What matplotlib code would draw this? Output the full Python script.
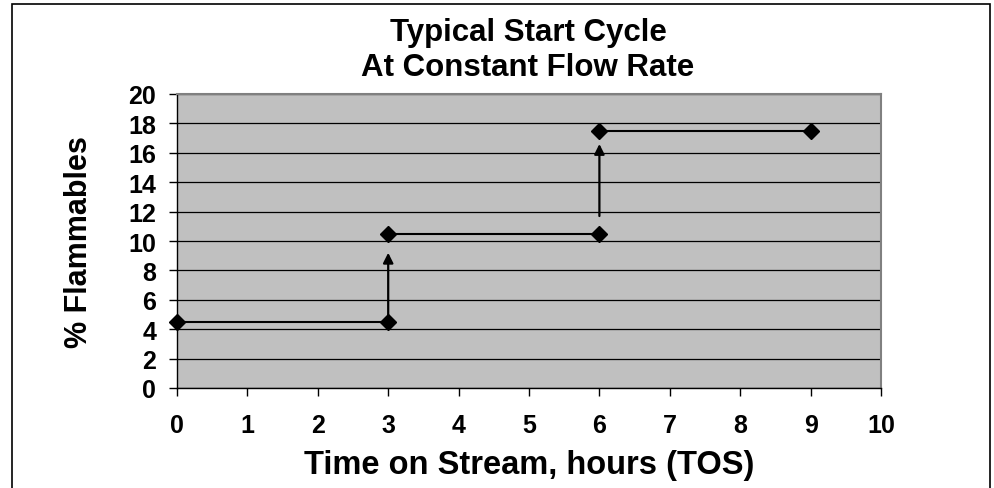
import matplotlib
matplotlib.use("Agg")
import matplotlib.pyplot as plt
from matplotlib.patches import Rectangle

plt.rcParams["font.family"] = ["Liberation Sans", "DejaVu Sans"]
plt.rcParams["font.weight"] = "bold"

# step segments (start x, end x, level)
seg_x0 = [0, 3, 6]
seg_x1 = [3, 6, 9]
seg_y = [4.5, 10.5, 17.5]

# arrows between steps (x, from y, to y)
arrow_x = [3, 6]
arrow_y0 = [4.5, 11.7]
arrow_y1 = [9.2, 16.6]

x_ticks = list(range(0, 11))
y_ticks = list(range(0, 21, 2))

fig = plt.figure(figsize=(9.94, 4.89), dpi=100)
fig.patches.append(Rectangle((12 / 994, -0.05), (990 - 12) / 994, 1.05 - 5 / 489,
                             transform=fig.transFigure, fill=False,
                             edgecolor="black", linewidth=1.2))

ax = fig.add_axes([177 / 994, 100 / 489, (881 - 177) / 994, (389 - 95) / 489])
ax.set_facecolor("#C0C0C0")

for x0, x1, y in zip(seg_x0, seg_x1, seg_y):
    ax.plot([x0, x1], [y, y], color="black", linewidth=1.5,
            marker="D", markersize=8, zorder=3, clip_on=False)

for x, y0, y1 in zip(arrow_x, arrow_y0, arrow_y1):
    ax.annotate("", xy=(x, y1), xytext=(x, y0),
                arrowprops=dict(arrowstyle="-|>", color="black", lw=1.6,
                                mutation_scale=15, shrinkA=0, shrinkB=0),
                zorder=3)

ax.set_xlim(0, 10)
ax.set_ylim(0, 20)
ax.set_xticks(x_ticks)
ax.set_yticks(y_ticks)
ax.tick_params(axis="both", direction="out", length=6, width=1,
               labelsize=18)
ax.tick_params(axis="x", pad=12)
ax.tick_params(axis="y", pad=9)
for lbl in ax.get_xticklabels() + ax.get_yticklabels():
    lbl.set_fontweight("bold")

ax.grid(axis="y", color="black", linewidth=0.9)
ax.set_axisbelow(True)
for side in ("top", "right"):
    ax.spines[side].set_color("#808080")
    ax.spines[side].set_linewidth(1.5)
for side in ("left", "bottom"):
    ax.spines[side].set_color("black")
    ax.spines[side].set_linewidth(1.0)

ax.set_xlabel("Time on Stream, hours (TOS)", fontsize=23.5, fontweight="bold",
              labelpad=9)
ax.set_ylabel("% Flammables", fontsize=22, fontweight="bold", labelpad=25)
fig.text(528 / 994, 1 - 33 / 489, "Typical Start Cycle", ha="center",
         va="center", fontsize=22.5, fontweight="bold")
fig.text(528 / 994, 1 - 68 / 489, "At Constant Flow Rate", ha="center",
         va="center", fontsize=22.5, fontweight="bold")

fig.savefig("out.png", dpi=100)
